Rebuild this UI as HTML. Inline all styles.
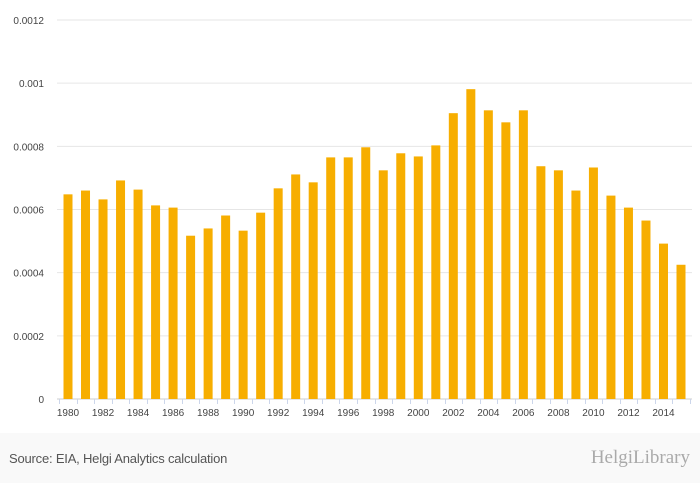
<!DOCTYPE html>
<html>
<head>
<meta charset="utf-8">
<style>
  html,body{margin:0;padding:0;background:#fff;}
  body{width:700px;height:483px;overflow:hidden;font-family:"Liberation Sans",sans-serif;position:relative;}
  svg{position:absolute;left:0;top:0;}
  .footer{position:absolute;left:0;top:433px;width:700px;height:50px;background:#f9f9f9;}
  .source{position:absolute;left:9px;top:18px;font-size:13px;color:#555;letter-spacing:-0.2px;}
  .logo{position:absolute;right:10px;top:14px;font-size:19px;color:#aaa;font-family:"Liberation Serif",serif;}
</style>
</head>
<body>
<svg id="chart" width="700" height="433"></svg>
<div class="footer">
  <div class="source">Source: EIA, Helgi Analytics calculation</div>
  <div class="logo">HelgiLibrary</div>
</div>
<script>
const years = [1980,1981,1982,1983,1984,1985,1986,1987,1988,1989,1990,1991,1992,1993,1994,1995,1996,1997,1998,1999,2000,2001,2002,2003,2004,2005,2006,2007,2008,2009,2010,2011,2012,2013,2014,2015];
const values = [0.000648,0.00066,0.000632,0.000692,0.000663,0.000613,0.000606,0.000517,0.00054,0.000581,0.000533,0.00059,0.000667,0.000711,0.000686,0.000765,0.000765,0.000797,0.000724,0.000778,0.000768,0.000803,0.000905,0.000981,0.000914,0.000876,0.000914,0.000737,0.000724,0.00066,0.000733,0.000644,0.000606,0.000565,0.000492,0.000425];
const yTicks = [0,0.0002,0.0004,0.0006,0.0008,0.001,0.0012];
const yTickLabels = ["0","0.0002","0.0004","0.0006","0.0008","0.001","0.0012"];

const svg = document.getElementById('chart');
const NS = 'http://www.w3.org/2000/svg';
const plotLeft = 57, plotRight = 692, yBottom = 399, yTop = 20, yMax = 0.0012;
const y = v => yBottom - v / yMax * (yBottom - yTop);
const x0 = 68, step = (681 - 68) / (years.length - 1);
const x = i => x0 + i * step;
const barW = 9;

yTicks.forEach((t, i) => {
  const line = document.createElementNS(NS, 'line');
  
  
  line.setAttribute('x1', plotLeft); line.setAttribute('x2', plotRight);
  line.setAttribute('y1', y(t)); line.setAttribute('y2', y(t));
  line.setAttribute('stroke', i === 0 ? '#ccc' : '#e6e6e6');
  line.setAttribute('stroke-width', 1);
  svg.appendChild(line);
  const lbl = document.createElementNS(NS, 'text');
  
  
  lbl.setAttribute('x', 44); lbl.setAttribute('y', y(t) + 4);
  lbl.setAttribute('text-anchor', 'end');
  lbl.setAttribute('font-size', '10');
  lbl.setAttribute('fill', '#444');
  lbl.textContent = yTickLabels[i];
  svg.appendChild(lbl);
});

for (let i = 0; i <= years.length; i++) {
  const tk = document.createElementNS(NS, 'line');
  
  
  const tx = Math.round(x(i) - step / 2) + 0.5;
  tk.setAttribute('x1', tx); tk.setAttribute('x2', tx);
  tk.setAttribute('y1', yBottom); tk.setAttribute('y2', yBottom + 5);
  tk.setAttribute('stroke', '#ccd6eb');
  svg.appendChild(tk);
}

values.forEach((v, i) => {
  const r = document.createElementNS(NS, 'rect');
  
  
  r.setAttribute('x', x(i) - barW / 2);
  r.setAttribute('y', y(v));
  r.setAttribute('width', barW);
  r.setAttribute('height', yBottom - y(v));
  r.setAttribute('fill', '#f7ae00');
  svg.appendChild(r);
  if (years[i] % 2 === 0) {
    const t = document.createElementNS(NS, 'text');
    
    
    t.setAttribute('x', x(i)); t.setAttribute('y', 416);
    t.setAttribute('text-anchor', 'middle');
    t.setAttribute('font-size', '10');
    t.setAttribute('fill', '#444');
    t.textContent = years[i];
    svg.appendChild(t);
  }
});
</script>
</body>
</html>
